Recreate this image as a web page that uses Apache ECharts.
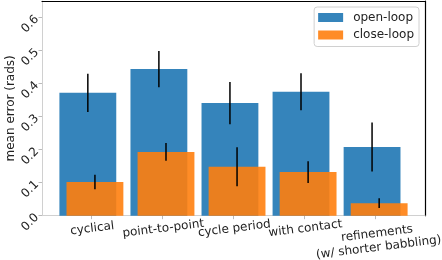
<!DOCTYPE html>
<html>
<head>
<meta charset="utf-8">
<script src="https://cdn.jsdelivr.net/npm/echarts@6/dist/echarts.min.js"></script>
<style>html,body{margin:0;padding:0;background:#fff;}#c{width:442px;height:260px;}</style>
</head>
<body>
<div id="c"></div>
<script>
const categories = ['cyclical', 'point-to-point', 'cycle period', 'with contact', 'refinements\n(w/ shorter babbling)'];
const openLoop = [0.372, 0.444, 0.341, 0.375, 0.208];
const openLoopErr = [0.058, 0.055, 0.064, 0.056, 0.074];
const closeLoop = [0.102, 0.193, 0.148, 0.132, 0.038];
const closeLoopErr = [0.022, 0.027, 0.059, 0.033, 0.015];
const yTicks = [0, 0.1, 0.2, 0.3, 0.4, 0.5, 0.6];

const FONT = 'DejaVu Sans';
const BLUE = 'rgba(31,119,180,0.9)';
const ORANGE = 'rgba(255,127,14,0.9)';

// value x-axis extent (matplotlib-style 5% margins around bars)
const X_MIN = -0.695, X_MAX = 4.695;
const G_LEFT = 42, G_RIGHT = 17, G_TOP = 1, G_BOTTOM = 44.3;
const plotW = 442 - G_LEFT - G_RIGHT;
const pxPerUnit = plotW / (X_MAX - X_MIN);
// second grid holding the category label axis, aligned with bands [-0.5, 4.5]
const L2 = G_LEFT + (-0.5 - X_MIN) * pxPerUnit;
const R2 = G_RIGHT + (X_MAX - 4.5) * pxPerUnit;

function makeRender(off, color) {
  return function (params, api) {
    const i = api.value(0), v = api.value(1), e = api.value(2);
    const p0 = api.coord([i + off - 0.4, v]);
    const p1 = api.coord([i + off + 0.4, 0]);
    const t = api.coord([i + off, v + e]);
    const b = api.coord([i + off, v - e]);
    return {
      type: 'group',
      children: [
        { type: 'rect', shape: { x: p0[0], y: p0[1], width: p1[0] - p0[0], height: p1[1] - p0[1] }, style: { fill: color } },
        { type: 'line', shape: { x1: t[0], y1: t[1], x2: b[0], y2: b[1] }, style: { stroke: '#000', lineWidth: 1.5 } }
      ]
    };
  };
}

const chart = echarts.init(document.getElementById('c'));
chart.setOption({
  animation: false,
  textStyle: { fontFamily: FONT },
  grid: [
    { left: G_LEFT, right: G_RIGHT, top: G_TOP, bottom: G_BOTTOM, containLabel: false, outerBoundsMode: 'none' },
    { left: L2, right: R2, top: G_TOP, bottom: G_BOTTOM, containLabel: false, outerBoundsMode: 'none' }
  ],
  legend: {
    orient: 'vertical',
    right: 23, top: 7,
    padding: [4, 5, 5, 4],
    itemWidth: 25, itemHeight: 9, itemGap: 4.5,
    icon: 'rect',
    borderColor: '#d0d0d0', borderWidth: 1, borderRadius: 3,
    backgroundColor: 'rgba(255,255,255,0.8)',
    textStyle: { fontFamily: FONT, fontSize: 12, color: '#222', lineHeight: 13, padding: [0, 0, 0, 5] },
    data: ['open-loop', 'close-loop']
  },
  xAxis: [
    {
      gridIndex: 0, type: 'value', min: X_MIN, max: X_MAX, position: 'bottom',
      axisLine: { show: true, onZero: false, lineStyle: { color: '#d0d0d0', width: 1 } },
      axisTick: { show: false }, axisLabel: { show: false }, splitLine: { show: false }
    },
    {
      gridIndex: 0, type: 'value', min: X_MIN, max: X_MAX, position: 'top',
      axisLine: { show: true, onZero: false, lineStyle: { color: '#000', width: 1.2 } },
      axisTick: { show: false }, axisLabel: { show: false }, splitLine: { show: false }
    },
    {
      gridIndex: 1, type: 'category', data: categories, boundaryGap: true, position: 'bottom',
      axisLine: { show: false, onZero: false },
      axisTick: { show: true, alignWithLabel: true, length: 3.5, lineStyle: { color: '#bbb' } },
      axisLabel: {
        interval: 0, rotate: 7, align: 'center', verticalAlign: 'top', margin: 6,
        fontFamily: FONT, fontSize: 12, color: '#222', lineHeight: 14,
        formatter: (v, i) => (v.indexOf('\n') >= 0 ? '{s| }\n' + v : v),
        rich: { s: { fontSize: 2, lineHeight: 5 } }
      },
      splitLine: { show: false }
    }
  ],
  yAxis: [
    {
      gridIndex: 0, type: 'value', min: 0, max: 0.65,
      name: 'mean error (rads)', nameLocation: 'middle', nameRotate: 90, nameGap: 25,
      nameMoveOverlap: false,
      nameTextStyle: { fontFamily: FONT, fontSize: 12, color: '#222' },
      axisLine: { show: true, onZero: false, lineStyle: { color: '#d0d0d0', width: 1 } },
      axisTick: { show: true, customValues: yTicks, length: 3.5, lineStyle: { color: '#bbb' } },
      axisLabel: {
        customValues: yTicks, formatter: v => v.toFixed(1), rotate: 45, margin: 5,
        showMinLabel: true, showMaxLabel: true,
        fontFamily: FONT, fontSize: 12, color: '#222'
      },
      splitLine: { show: false }
    },
    {
      gridIndex: 0, type: 'value', min: 0, max: 0.65, position: 'right',
      axisLine: { show: true, onZero: false, lineStyle: { color: '#000', width: 1.2 } },
      axisTick: { show: false }, axisLabel: { show: false }, splitLine: { show: false }
    },
    {
      gridIndex: 1, type: 'value', min: 0, max: 0.65, show: false
    }
  ],
  series: [
    {
      name: 'open-loop', type: 'custom', xAxisIndex: 0, yAxisIndex: 0, itemStyle: { color: BLUE },
      encode: { x: 0, y: 1 },
      data: categories.map((c, i) => [i, openLoop[i], openLoopErr[i]]),
      renderItem: makeRender(-0.05, BLUE)
    },
    {
      name: 'close-loop', type: 'custom', xAxisIndex: 0, yAxisIndex: 0, itemStyle: { color: ORANGE },
      encode: { x: 0, y: 1 },
      data: categories.map((c, i) => [i, closeLoop[i], closeLoopErr[i]]),
      renderItem: makeRender(0.05, ORANGE)
    }
  ]
});
</script>
</body>
</html>
